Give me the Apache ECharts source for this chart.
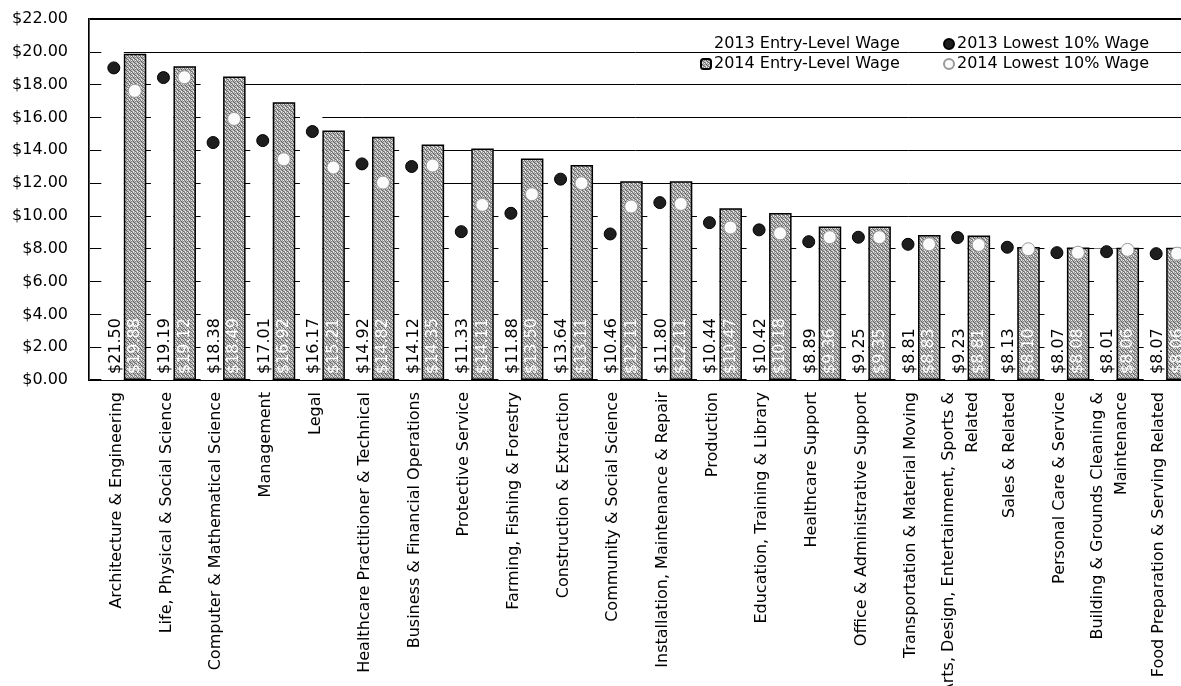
<!DOCTYPE html>
<html>
<head>
<meta charset="utf-8">
<script src="https://cdn.jsdelivr.net/npm/echarts@6/dist/echarts.min.js"></script>
<style>
  html, body { margin: 0; padding: 0; background: #fff; }
  #main { width: 1181px; height: 686px; overflow: hidden; }
</style>
</head>
<body>
<div id="main"></div>
<script>
var categories = [
    'Architecture & Engineering',
    'Life, Physical & Social Science',
    'Computer & Mathematical Science',
    'Management',
    'Legal',
    'Healthcare Practitioner & Technical',
    'Business & Financial Operations',
    'Protective Service',
    'Farming, Fishing & Forestry',
    'Construction & Extraction',
    'Community & Social Science',
    'Installation, Maintenance & Repair',
    'Production',
    'Education, Training & Library',
    'Healthcare Support',
    'Office & Administrative Support',
    'Transportation & Material Moving',
    'Arts, Design, Entertainment, Sports &\nRelated',
    'Sales & Related',
    'Personal Care & Service',
    'Building & Grounds Cleaning &\nMaintenance',
    'Food Preparation & Serving Related'
];
var entry2013 = [21.50, 19.19, 18.38, 17.01, 16.17, 14.92, 14.12, 11.33, 11.88, 13.64, 10.46,
    11.80, 10.44, 10.42, 8.89, 9.25, 8.81, 9.23, 8.13, 8.07, 8.01, 8.07];
var entry2014 = [19.88, 19.12, 18.49, 16.92, 15.21, 14.82, 14.35, 14.11, 13.50, 13.11, 12.11,
    12.11, 10.47, 10.18, 9.36, 9.35, 8.83, 8.81, 8.10, 8.08, 8.06, 8.06];
var lowest2013 = [19.02, 18.43, 14.47, 14.59, 15.14, 13.17, 13.01, 9.04, 10.16, 12.24, 8.90,
    10.81, 9.59, 9.15, 8.43, 8.70, 8.27, 8.68, 8.09, 7.76, 7.82, 7.70];
var lowest2014 = [17.62, 18.45, 15.91, 13.45, 12.95, 12.03, 13.07, 10.67, 11.32, 11.99, 10.57,
    10.73, 9.29, 8.94, 8.70, 8.70, 8.27, 8.23, 7.97, 7.76, 7.93, 7.70];

var FONT = 'DejaVu Sans';

// speckled grey fill like the printed bars
function makeTexture() {
    var shades = [
        '#7a7a7a', '#cfcfcf', '#959595', '#ececec',
        '#adadad', '#5a5a5a', '#c4c4c4', '#858585',
        '#dcdcdc', '#9a9a9a', '#676767', '#b8b8b8',
        '#8c8c8c', '#f4f4f4', '#a3a3a3', '#707070'
    ];
    var c = document.createElement('canvas');
    c.width = 4;
    c.height = 4;
    var ctx = c.getContext('2d');
    for (var i = 0; i < 16; i++) {
        ctx.fillStyle = shades[i];
        ctx.fillRect(i % 4, Math.floor(i / 4), 1, 1);
    }
    return c;
}
var texture = makeTexture();

function money(v) {
    return '$' + v.toFixed(2);
}

var chart = echarts.init(document.getElementById('main'), null, { renderer: 'canvas' });

var legendText = { fontFamily: FONT, fontSize: 16, color: '#000', lineHeight: 16, padding: [0, 0, 0, -2] };

var option = {
    animation: false,
    backgroundColor: '#fff',
    textStyle: { fontFamily: FONT, color: '#000' },
    // plot runs past the right edge of the picture, as in the cropped original
    grid: [
        { left: 89, top: 19, width: 1102, bottom: 306, outerBoundsMode: 'none', show: true, borderColor: '#000', borderWidth: 2, backgroundColor: 'transparent' },
        { left: 99, top: 19, width: 1092, bottom: 306, outerBoundsMode: 'none' }
    ],
    legend: [{
        data: ['2013 Entry-Level Wage', '2014 Entry-Level Wage'],
        orient: 'vertical',
        left: 695,
        top: 31,
        itemWidth: 10,
        itemHeight: 10,
        itemGap: 4,
        selectedMode: false,
        textStyle: legendText
    }, {
        data: ['2013 Lowest 10% Wage', '2014 Lowest 10% Wage'],
        orient: 'vertical',
        left: 938,
        top: 31,
        itemWidth: 10,
        itemHeight: 10,
        itemGap: 4,
        selectedMode: false,
        textStyle: legendText
    }],
    xAxis: [{
        type: 'category',
        gridIndex: 0,
        data: categories,
        axisLine: { show: true, lineStyle: { color: '#000', width: 1 } },
        axisTick: { show: false },
        axisLabel: { show: false }
    }, {
        type: 'category',
        gridIndex: 1,
        data: categories,
        axisLine: { show: false },
        axisTick: { show: false },
        axisLabel: {
            rotate: 90,
            margin: 12,
            interval: 0,
            fontFamily: FONT,
            fontSize: 16,
            color: '#000',
            lineHeight: 24,
            // blank trailing line nudges the rotated names a little left
            formatter: function (v) { return v + '\n{s| }'; },
            rich: { s: { fontSize: 4, lineHeight: 14 } }
        }
    }],
    yAxis: [{
        type: 'value',
        gridIndex: 0,
        min: 0,
        max: 22,
        interval: 2,
        axisLine: { show: true, lineStyle: { color: '#555', width: 1 } },
        axisTick: { show: false },
        splitLine: { lineStyle: { color: '#000', width: 1 } },
        axisLabel: {
            margin: 21,
            fontFamily: FONT,
            fontSize: 16,
            color: '#000',
            formatter: function (v) { return money(v); }
        }
    }, {
        type: 'value',
        gridIndex: 1,
        min: 0,
        max: 22,
        interval: 2,
        show: false
    }],
    series: [{
        name: '2013 Entry-Level Wage',
        type: 'bar',
        xAxisIndex: 1,
        yAxisIndex: 1,
        data: entry2013,
        barWidth: 22.5,
        barGap: '0%',
        itemStyle: { color: '#fff', borderWidth: 0 },
        label: {
            show: true,
            position: 'insideBottom',
            rotate: 90,
            align: 'left',
            verticalAlign: 'middle',
            distance: 6,
            offset: [0, 3],
            fontFamily: FONT,
            fontSize: 16,
            color: '#000',
            formatter: function (p) { return money(p.value); }
        }
    }, {
        name: '2014 Entry-Level Wage',
        type: 'bar',
        xAxisIndex: 1,
        yAxisIndex: 1,
        data: entry2014,
        barWidth: 22.5,
        barGap: '0%',
        itemStyle: { color: { image: texture, repeat: 'repeat' }, borderColor: '#000', borderWidth: 1.5 },
        label: {
            show: true,
            position: 'insideBottom',
            rotate: 90,
            align: 'left',
            verticalAlign: 'middle',
            distance: 6,
            fontFamily: FONT,
            fontSize: 16,
            color: '#fff',
            formatter: function (p) { return money(p.value); }
        }
    }, {
        name: '2013 Lowest 10% Wage',
        type: 'scatter',
        xAxisIndex: 1,
        yAxisIndex: 1,
        data: lowest2013,
        symbol: 'circle',
        symbolSize: 12,
        symbolOffset: [-10, 0],
        itemStyle: { color: '#1e1e1e', borderColor: '#000', borderWidth: 1, opacity: 1 },
        z: 3
    }, {
        name: '2014 Lowest 10% Wage',
        type: 'scatter',
        xAxisIndex: 1,
        yAxisIndex: 1,
        data: lowest2014,
        symbol: 'circle',
        symbolSize: 13,
        symbolOffset: [11, 0],
        itemStyle: { color: '#fbfbfb', borderColor: '#9a9a9a', borderWidth: 1, opacity: 1 },
        z: 3
    }]
};

chart.setOption(option);
</script>
</body>
</html>
